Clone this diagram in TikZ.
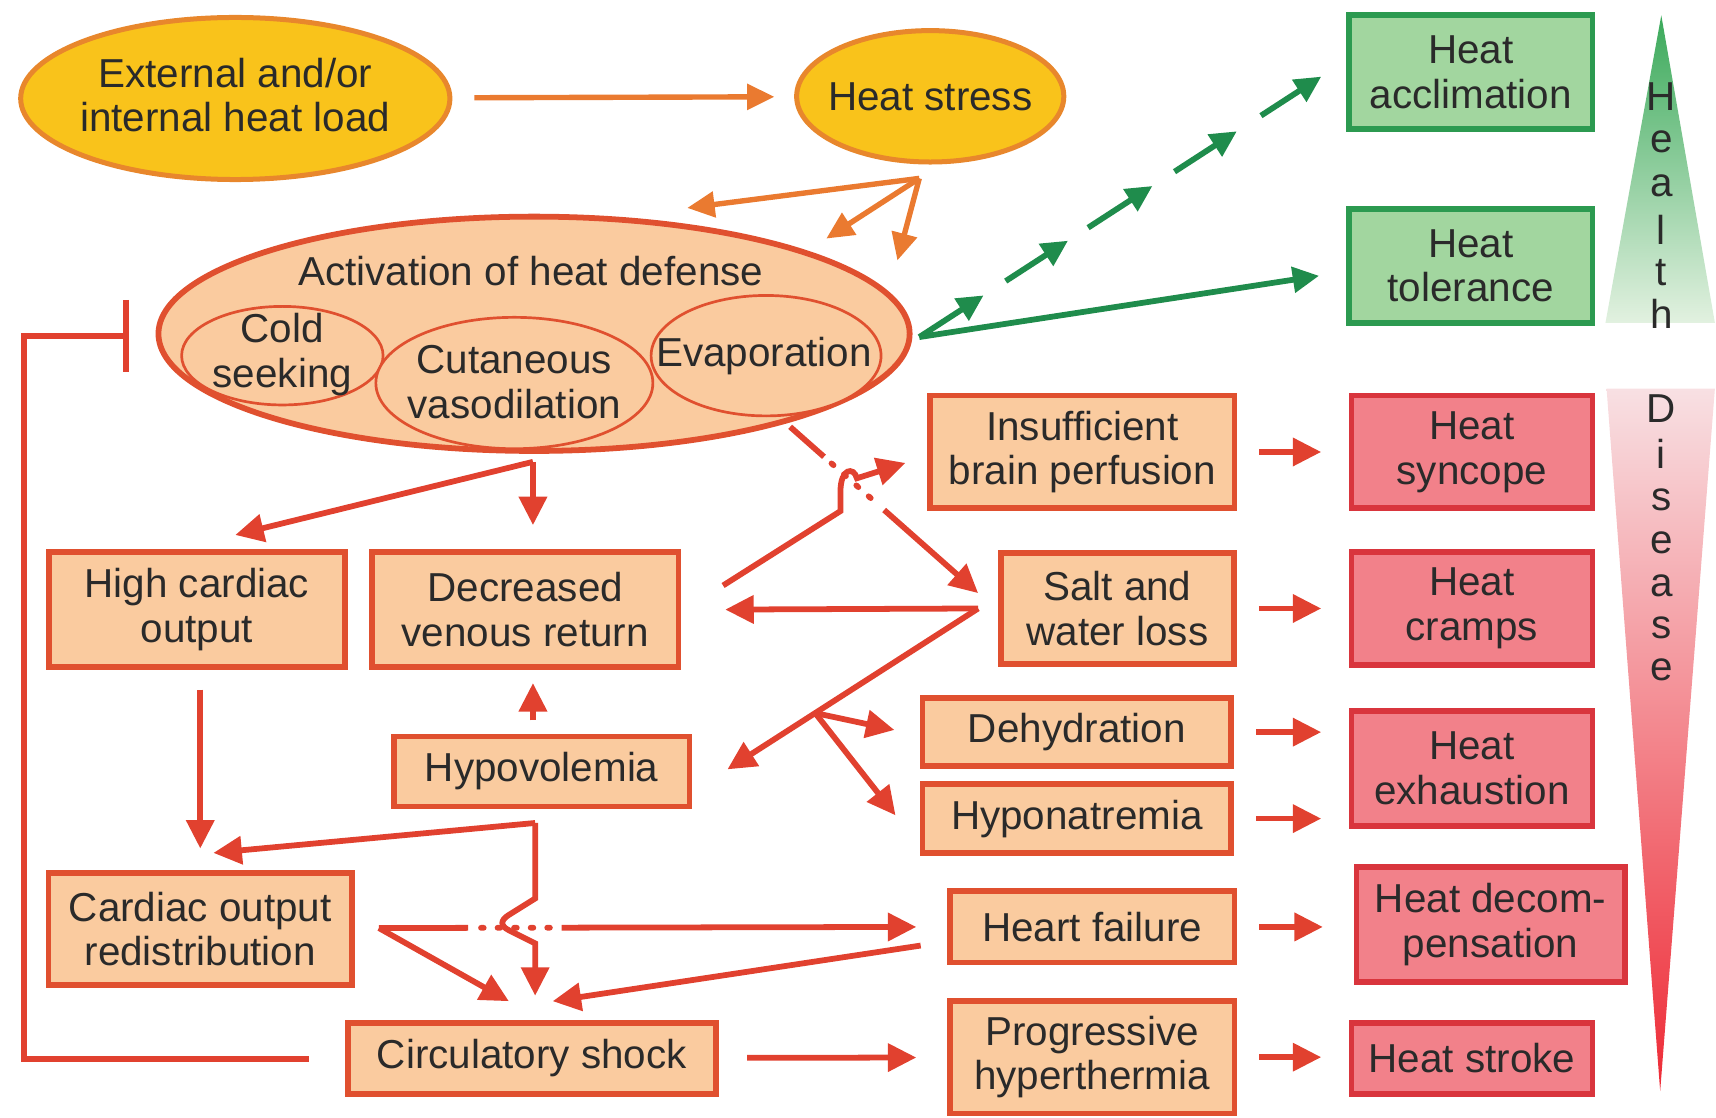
\documentclass[tikz,border=0pt]{standalone}
\usepackage{fontspec}
\setmainfont{Liberation Sans}
\usetikzlibrary{arrows.meta,positioning,calc,shapes.geometric}

\definecolor{goldfill}{HTML}{F9C31B}
\definecolor{goldline}{HTML}{E8872C}
\definecolor{peach}{HTML}{FACB9F}
\definecolor{peachline}{HTML}{E0502F}
\definecolor{leaf}{HTML}{A2D69F}
\definecolor{leafline}{HTML}{2C9A50}
\definecolor{leaftop}{HTML}{3AA95A}
\definecolor{leafbottom}{HTML}{E2F1E0}
\definecolor{rose}{HTML}{F2818A}
\definecolor{roseline}{HTML}{D9353D}
\definecolor{rosetop}{HTML}{F8E0E3}
\definecolor{rosebottom}{HTML}{EE2A35}
\definecolor{arrred}{HTML}{E1412F}
\definecolor{arrorange}{HTML}{EA7A30}
\definecolor{arrgreen}{HTML}{1F8C4C}
\definecolor{inktext}{HTML}{2A2A2A}

\begin{document}
\begin{tikzpicture}[x=0.01cm,y=-0.01cm,
  every node/.style={font=\fontsize{10.5}{11.6}\selectfont,align=center,inner sep=0pt,text=inktext},
  loadell/.style={ellipse,draw=goldline,fill=goldfill,line width=1.3pt},
  defell/.style={ellipse,draw=peachline,fill=peach,line width=1.5pt},
  subell/.style={ellipse,draw=peachline,fill=peach,line width=0.7pt},
  midbox/.style={draw=peachline,fill=peach,line width=1.5pt},
  healthbox/.style={draw=leafline,fill=leaf,line width=1.5pt,minimum width=2.22cm,minimum height=1.04cm},
  diseasebox/.style={draw=roseline,fill=rose,line width=1.5pt,minimum width=2.20cm,minimum height=1.03cm},
  redline/.style={draw=arrred,line width=1.5pt},
  redarrow/.style={redline,-{Triangle[length=2.6mm,width=2.5mm]}},
  orangearrow/.style={draw=arrorange,line width=1.4pt,-{Triangle[length=2.5mm,width=2.3mm]}},
  greenarrow/.style={draw=arrgreen,line width=1.5pt,-{Triangle[length=2.4mm,width=2.3mm]}},
  dotline/.style={redline,line cap=round,dash pattern=on 0.7pt off 3.6pt},
  stepright/.style={redarrow,shorten <=0.2cm,shorten >=0.25cm}]
\useasboundingbox (0,0) rectangle (1568,1021);

% health / disease scales
\shade[top color=leaftop,bottom color=leafbottom] (1518,14) -- (1567,295) -- (1467,295) -- cycle;
\shade[top color=rosetop,bottom color=rosebottom] (1468,355) -- (1567,355) -- (1517,997) -- cycle;
\foreach \ch/\yy [count=\i] in {H/88,e/130,a/170,l/210,t/249,h/287}
  \node (hl\i) at (1518,\yy) {\ch};
\foreach \ch/\yy [count=\i] in {D/373,i/415,s/457,e/496,a/535,s/574,e/612}
  \node (dl\i) at (1518,\yy) {\ch};

% top row
\node[loadell,minimum width=3.92cm,minimum height=1.48cm] (load) at (215,90) {};
\node at (215,87) {External and/or\\internal heat load};
\node[loadell,minimum width=2.44cm,minimum height=1.20cm] (stress) at (850,88) {};
\node at (stress) {Heat stress};

% heat defense
\node[defell,minimum width=6.86cm,minimum height=2.14cm] (defense) at (488,305) {};
\node (deftitle) at (485,248) {Activation of heat defense};
\node[subell,minimum width=1.84cm,minimum height=0.90cm] (cold) at (258,325) {};
\node[subell,minimum width=2.53cm,minimum height=1.20cm] (cutan) at (470,350) {};
\node[subell,minimum width=2.10cm,minimum height=1.10cm] (evap) at (700,325) {};
\node at (258,324) {Cold\\seeking};
\node at (470,349) {Cutaneous\\vasodilation};
\node at (698,325) {Evaporation};

% outcomes
\node[healthbox] (acclim) at (1344,66) {Heat\\acclimation};
\node[healthbox] (toler) at (1344,243) {Heat\\tolerance};
\node[diseasebox] (syncope) at (1345,413) {Heat\\syncope};
\node[diseasebox] (cramps) at (1345,556) {Heat\\cramps};
\node[diseasebox,minimum height=1.05cm] (exhaust) at (1345,702) {Heat\\exhaustion};
\node[diseasebox,minimum width=2.45cm,minimum height=1.05cm] (decomp) at (1362,845) {Heat decom-\\pensation};
\node[diseasebox,minimum height=0.65cm] (stroke) at (1345,967) {Heat stroke};

% mechanisms
\node[midbox,minimum width=2.70cm,minimum height=1.05cm] (highco) at (180,557) {High cardiac\\output};
\node[midbox,minimum width=2.80cm,minimum height=1.05cm] (venous) at (480,557) {Decreased\\venous return};
\node[midbox,minimum width=2.70cm,minimum height=0.64cm] (hypovol) at (495,705) {Hypovolemia};
\node[midbox,minimum width=2.77cm,minimum height=1.02cm] (redist) at (183,849) {Cardiac output\\redistribution};
\node[midbox,minimum width=3.36cm,minimum height=0.65cm] (shock) at (486,967) {Circulatory shock};
\node[midbox,minimum width=2.78cm,minimum height=1.03cm] (brain) at (989,413) {Insufficient\\brain perfusion};
\node[midbox,minimum width=2.13cm,minimum height=1.02cm] (saltw) at (1021,556) {Salt and\\water loss};
\node[midbox,minimum width=2.82cm,minimum height=0.62cm] (dehyd) at (984,669) {Dehydration};
\node[midbox,minimum width=2.82cm,minimum height=0.63cm] (hypona) at (984,748) {Hyponatremia};
\node[midbox,minimum width=2.60cm,minimum height=0.65cm] (hfail) at (998,847) {Heart failure};
\node[midbox,minimum width=2.60cm,minimum height=1.03cm] (hyperth) at (998,966) {Progressive\\hyperthermia};

% heat load and stress
\draw[orangearrow,shorten <=0.2cm,shorten >=0.18cm] (load) -- (stress);
\coordinate (fan) at (840,163);
\coordinate (fanA) at (628,190);
\coordinate (fanB) at (755,218);
\coordinate (fanC) at (820,238);
\foreach \t in {fanA,fanB,fanC}
  \draw[orangearrow] (fan) -- (\t);

% adaptation
\coordinate (gstart) at (840,308);
\coordinate (gend) at ($(acclim.west)+(-23,4)$);
\draw[greenarrow] (gstart) -- ($(toler.west)+(-25,9)$);
\foreach \a/\b in {0/0.16,0.215/0.37,0.42/0.58,0.635/0.79,0.85/1}
  \draw[greenarrow] ($(gstart)!\a!(gend)$) -- ($(gstart)!\b!(gend)$);

% from heat defense
\coordinate (dsplit) at (487,422);
\draw[redarrow] (dsplit) -- ($(highco.north)+(35,-13)$);
\draw[redarrow] (dsplit) -- ($(venous.north)+(7,-22)$);
\coordinate (dA) at (722,390);
\coordinate (dB) at ($(saltw.west)+(-18,-14)$);
\draw[redline] (dA) -- ($(dA)!0.18!(dB)$);
\draw[dotline] ($(dA)!0.22!(dB)$) -- ($(dA)!0.47!(dB)$);
\draw[redarrow] ($(dA)!0.5!(dB)$) -- (dB);

% venous return to brain, with hop
\coordinate (vstart) at ($(venous.east)+(38,-22)$);
\draw[redarrow] (vstart) -- (768,467) -- (768,449) .. controls (768,428) and (780,426) .. (783,437) -- ($(brain.west)+(-20,10)$);

% salt and water loss
\coordinate (sjoin) at ($(saltw.west)+(-18,0)$);
\coordinate (hypend) at ($(hypovol.east)+(32,-2)$);
\coordinate (sbranch) at ($(sjoin)!0.65!(hypend)$);
\draw[redarrow] (sjoin) -- ($(venous.east)+(40,0)$);
\draw[redarrow] (sjoin) -- (hypend);
\draw[redarrow] (sbranch) -- ($(dehyd.west)+(-23,-2)$);
\draw[redarrow] (sbranch) -- ($(hypona.west)+(-22,-3)$);

% hypovolemia
\draw[redarrow] ($(hypovol.north)+(-8,-12)$) -- ($(venous.south)+(7,12)$);
\coordinate (hcorner) at (489,752);
\draw[redarrow] (hcorner) -- ($(redist.north)+(12,-16)$);
\draw[redarrow] (hcorner) -- (489,821) -- (465,836) .. controls (457,841) and (457,846) .. (465,850) -- (489,862) -- ($(shock.north)+(3,-22)$);

% cardiac output
\draw[redarrow] ($(highco.south)+(3,18)$) -- ($(redist.north)+(0,-20)$);
\coordinate (rstart) at ($(redist.east)+(22,-1)$);
\coordinate (rend) at ($(hfail.west)+(-28,0)$);
\draw[redline] (rstart) -- ($(rstart)!0.166!(rend)$);
\draw[dotline] ($(rstart)!0.19!(rend)$) -- ($(rstart)!0.34!(rend)$);
\draw[redarrow] ($(rstart)!0.34!(rend)$) -- (rend);
\draw[redarrow] (rstart) -- ($(shock.north)+(-21,-17)$);
\draw[redarrow] ($(hfail.west)+(-24,17)$) -- ($(shock.north)+(19,-17)$);
\draw[redarrow,shorten <=0.26cm,shorten >=0.28cm] (shock) -- (hyperth);

% feedback inhibition
\coordinate (fbl) at (22,968);
\coordinate (ftl) at (22,307);
\coordinate (inhtop) at (118,307);
\draw[redline,-{Bar[width=6.6mm]}] ($(shock.west)+(-33,1)$) -- (fbl) -- (ftl) -- (inhtop);

% towards disease
\draw[stepright] (brain) -- (syncope);
\draw[stepright] (saltw) -- (cramps);
\draw[stepright] (dehyd.east) -- (dehyd.east -| exhaust.west);
\draw[stepright] (hypona.east) -- (hypona.east -| exhaust.west);
\draw[stepright,shorten >=0.28cm] (hfail.east) -- (hfail.east -| decomp.west);
\draw[stepright] (hyperth.east) -- (hyperth.east -| stroke.west);
\end{tikzpicture}
\end{document}
